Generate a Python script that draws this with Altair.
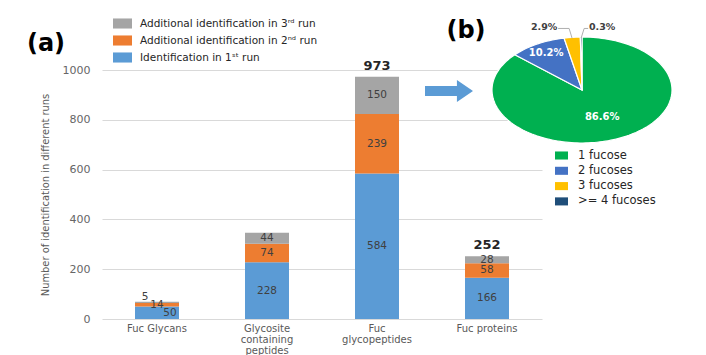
import altair as alt
import pandas as pd
import numpy as np

# ---------------- data ----------------
categories = ["Fuc Glycans", "Glycosite\ncontaining\npeptides", "Fuc\nglycopeptides", "Fuc proteins"]
run_names = ["Identification in 1ˢᵗ run",
             "Additional identification in 2ⁿᵈ run",
             "Additional identification in 3ʳᵈ run"]
run1 = [50, 228, 584, 166]
run2 = [14, 74, 239, 58]
run3 = [5, 44, 150, 28]
show_total = [False, False, True, True]
run_colors = ["#5B9BD5", "#ED7D31", "#A5A5A5"]
y_ticks = [0, 200, 400, 600, 800, 1000]

fucose_names = ["1 fucose", "2 fucoses", "3 fucoses", ">= 4 fucoses"]
fucose_pct = [86.6, 10.2, 2.9, 0.3]
fucose_labels = ["86.6%", "10.2%", "2.9%", "0.3%"]
fucose_colors = ["#00B050", "#4472C4", "#FFC000", "#1F4E79"]

# ---------------- bar table ----------------
rows = []
for i, c in enumerate(categories):
    base = 0
    for k, vals in enumerate([run1, run2, run3]):
        v = vals[i]
        rows.append({"cat": c, "run": run_names[k], "k": k, "value": v,
                     "y0": base, "y1": base + v, "mid": base + v / 2,
                     "lab": str(v)})
        base += v
bar_df = pd.DataFrame(rows)
tot_df = pd.DataFrame({"cat": categories,
                       "total": [a + b + c for a, b, c in zip(run1, run2, run3)],
                       "show": show_total})
tot_df = tot_df[tot_df["show"]]

W, H = 440, 249
FONT = "DejaVu Sans"

xenc = alt.X("cat:N", sort=categories,
             scale=alt.Scale(paddingInner=0.6, paddingOuter=0.3),
             axis=alt.Axis(title=None, domain=False, ticks=False, labelAngle=0,
                           labelExpr="split(datum.label, '\\n')",
                           labelFont=FONT, labelFontSize=10,
                           labelLineHeight=11, labelColor="#595959",
                           labelPadding=4, labelBaseline="top"))
yscale = alt.Scale(domain=[0, 1000], nice=False)

bars = alt.Chart(bar_df).mark_bar().encode(
    x=xenc,
    y=alt.Y("y0:Q", scale=yscale,
            axis=alt.Axis(values=y_ticks, format="d", grid=True, gridColor="#D9D9D9",
                          domain=False, ticks=False, labelPadding=12,
                          labelFont=FONT, labelFontSize=11,
                          labelColor="#666666",
                          title="Number of identification in different runs",
                          titleFont="Liberation Sans Narrow, DejaVu Sans Condensed, Arial Narrow, Liberation Sans",
                          titleFontSize=11,
                          titleFontWeight="normal", titleColor="#595959",
                          titlePadding=12)),
    y2="y1:Q",
    color=alt.Color("run:N",
                    scale=alt.Scale(domain=run_names[::-1], range=run_colors[::-1]),
                    legend=alt.Legend(title=None, orient="none", legendX=11, legendY=-56,
                                      symbolType="M-1,-0.53H1V0.53H-1Z", symbolSize=361,
                                      symbolStrokeWidth=0, symbolOpacity=1,
                                      labelFont=FONT, labelFontSize=10.5,
                                      labelColor="#262626", labelOffset=8,
                                      labelLimit=0, rowPadding=2)),
)

SEG = 10.5
main_lab = alt.Chart(bar_df).transform_filter(
    "datum.cat != 'Fuc Glycans' || datum.k == 1").mark_text(
    font=FONT, fontSize=SEG, color="#404040").encode(
    x=alt.X("cat:N", sort=categories), y=alt.Y("mid:Q"), text="lab:N")
lab_k0 = alt.Chart(bar_df).transform_filter(
    "datum.cat == 'Fuc Glycans' && datum.k == 0").mark_text(
    font=FONT, fontSize=SEG, color="#404040", dx=13).encode(
    x=alt.X("cat:N", sort=categories), y=alt.Y("mid:Q"), text="lab:N")
lab_k2 = alt.Chart(bar_df).transform_filter(
    "datum.cat == 'Fuc Glycans' && datum.k == 2").mark_text(
    font=FONT, fontSize=SEG, color="#404040", dx=-12, dy=-5).encode(
    x=alt.X("cat:N", sort=categories), y=alt.Y("mid:Q"), text="lab:N")

totals = alt.Chart(tot_df).mark_text(
    font=FONT, fontSize=13, fontWeight="bold", color="#262626",
    baseline="bottom", dy=-4).encode(
    x=alt.X("cat:N", sort=categories), y=alt.Y("total:Q"), text=alt.Text("total:Q"))

# ---------------- pie (elliptical, built as polygons from the percentages) ----------------
RX, RY = 90, 53
feats = []
start = 0.0
mids = []
for name, p in zip(fucose_names, fucose_pct):
    a0 = start / 100 * 2 * np.pi
    a1 = (start + p) / 100 * 2 * np.pi
    n = max(3, int(p * 2))
    th = np.linspace(a0, a1, n)
    ring = [[0.0, 0.0]] + [[float(RX * np.sin(t)), float(RY * np.cos(t))] for t in th] + [[0.0, 0.0]]
    feats.append({"type": "Feature", "properties": {"cat": name},
                  "geometry": {"type": "Polygon", "coordinates": [ring]}})
    mids.append((a0 + a1) / 2)
    start += p

PROJ = dict(type="identity", reflectY=True, scale=1, translate=[480, 20])

pie = alt.Chart(alt.Data(values=feats)).mark_geoshape(
    stroke="white", strokeWidth=1.2, clip=False).encode(
    color=alt.Color("properties.cat:N",
                    scale=alt.Scale(domain=fucose_names, range=fucose_colors),
                    legend=alt.Legend(title=None, orient="none", legendX=453, legendY=79,
                                      symbolType="M-1,-0.62H1V0.62H-1Z", symbolSize=169,
                                      symbolStrokeWidth=0, symbolOpacity=1,
                                      labelFont=FONT, labelFontSize=11.5,
                                      labelColor="#262626", labelOffset=10,
                                      labelLimit=0, rowPadding=3.3))
).project(**PROJ)

inside_rows, outside_rows, leader_rows = [], [], []
side = [-28, 21]
j = 0
for lab, p, m in zip(fucose_labels, fucose_pct, mids):
    if p > 5:
        f = 0.55 if p > 50 else 0.8
        inside_rows.append({"t": lab, "lon": RX * np.sin(m) * f, "lat": RY * np.cos(m) * f})
    else:
        ex, ey = RX * np.sin(m), RY * np.cos(m)
        lx, ly = ex + side[j], RY * 1.18
        outside_rows.append({"t": lab, "lon": lx, "lat": ly})
        sx = lx + (14 if side[j] < 0 else -14)
        leader_rows += [{"g": lab, "o": 0, "lon": sx, "lat": ly - 1},
                        {"g": lab, "o": 1, "lon": ex + (-3 if side[j] < 0 else 3), "lat": ly - 1},
                        {"g": lab, "o": 2, "lon": ex, "lat": ey - 1}]
        j += 1
inside_df = pd.DataFrame(inside_rows)
outside_df = pd.DataFrame(outside_rows)
leader_df = pd.DataFrame(leader_rows)

pie_in = alt.Chart(inside_df).mark_text(
    font=FONT, fontSize=10, fontWeight="bold", color="white", clip=False).encode(
    longitude="lon:Q", latitude="lat:Q", text="t:N").project(**PROJ)
pie_out = alt.Chart(outside_df).mark_text(
    font=FONT, fontSize=9.5, fontWeight="bold", color="#404040", clip=False).encode(
    longitude="lon:Q", latitude="lat:Q", text="t:N").project(**PROJ)
leaders = alt.Chart(leader_df).mark_line(color="#A6A6A6", strokeWidth=0.9, clip=False).encode(
    longitude="lon:Q", latitude="lat:Q", detail="g:N", order="o:Q").project(**PROJ)

# ---------------- annotations ----------------
ann = pd.DataFrame({"t": ["(a)"]})
panel_a = alt.Chart(ann).mark_text(font="DejaVu Sans", fontSize=24, fontWeight="bold",
                                   color="black").encode(
    x=alt.value(-56), y=alt.value(-26), text=alt.value("(a)"))
panel_b = alt.Chart(ann).mark_text(font="DejaVu Sans", fontSize=24, fontWeight="bold",
                                   color="black").encode(
    x=alt.value(364), y=alt.value(-39), text=alt.value("(b)"))
arrow = alt.Chart(ann).mark_point(
    shape="M-1,-0.21L0.33,-0.21L0.33,-0.46L1,0L0.33,0.46L0.33,0.21L-1,0.21Z",
    size=2304, filled=True, opacity=1, color="#5B9BD5", strokeWidth=0).encode(
    x=alt.value(347), y=alt.value(21))

chart = alt.layer(bars, main_lab, lab_k0, lab_k2, totals, arrow,
                  pie, leaders, pie_in, pie_out, panel_a, panel_b).resolve_scale(
    color="independent").properties(
    width=W, height=H,
    padding={"left": 102, "top": 70, "right": 164, "bottom": 36},
    autosize=alt.AutoSizeParams(type="none"),
    background="white",
).configure_view(stroke=None)

chart.save("out.html", embed_options={"renderer": "svg", "actions": False})
